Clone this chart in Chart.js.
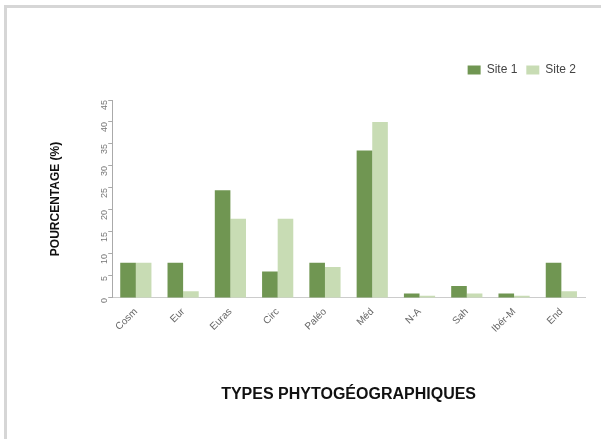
<!DOCTYPE html>
<html lang="fr">
  <head>
    <meta charset="UTF-8" />
    <title>Types phytogéographiques</title>
    <script src="https://cdn.jsdelivr.net/npm/chart.js@4.4.1/dist/chart.umd.min.js"></script>
    <style>
      body {
        margin: 0;
        background: #ffffff;
      }
      .frame {
        position: absolute;
        left: 4px;
        top: 5px;
        width: 597px;
        height: 434px;
        border-top: 3px solid #d6d6d6;
        border-left: 3px solid #d6d6d6;
        box-sizing: border-box;
      }
      .wrap {
        position: absolute;
        left: 0;
        top: 0;
        width: 601px;
        height: 439px;
      }
    </style>
  </head>
  <body>
    <div class="frame"></div>
    <div class="wrap"><canvas id="chart" width="601" height="439"></canvas></div>

    <script>
      // values (percentages)
      const categories = [
        "Cosm",
        "Eur",
        "Euras",
        "Circ",
        "Paléo",
        "Méd",
        "N-A",
        "Sah",
        "Ibér-M",
        "End",
      ];
      const site1 = [8, 8, 24.5, 6, 8, 33.5, 1, 2.7, 1, 8];
      const site2 = [8, 1.5, 18, 18, 7, 40, 0.5, 1, 0.5, 1.5];
      const yTicks = [0, 5, 10, 15, 20, 25, 30, 35, 40, 45];

      // push the plot down below the legend
      const legendGap = {
        id: "legendGap",
        beforeInit(chart) {
          const fit = chart.legend.fit;
          chart.legend.fit = function () {
            fit.bind(chart.legend)();
            this.height += 14;
          };
        },
      };

      new Chart(document.getElementById("chart"), {
        type: "bar",
        data: {
          labels: categories,
          datasets: [
            {
              label: "Site 1",
              data: site1,
              backgroundColor: "rgb(112, 150, 82)",
              borderWidth: 0,
            },
            {
              label: "Site 2",
              data: site2,
              backgroundColor: "rgb(200, 220, 180)",
              borderWidth: 0,
            },
          ],
        },
        options: {
          responsive: false,
          animation: false,
          layout: {
            padding: { left: 44, right: 16, top: 55, bottom: 31 },
          },
          plugins: {
            legend: {
              position: "top",
              align: "end",
              labels: {
                boxWidth: 13,
                boxHeight: 9,
                padding: 9,
                color: "#444",
                font: { family: "Arial", size: 12 },
              },
            },
            tooltip: { enabled: false },
          },
          datasets: {
            bar: { categoryPercentage: 0.66, barPercentage: 1.0 },
          },
          scales: {
            x: {
              grid: { display: false, drawTicks: false },
              border: { color: "#cccccc" },
              ticks: {
                minRotation: 45,
                maxRotation: 45,
                color: "#666",
                padding: 8,
                font: { family: "Arial", size: 10 },
              },
              title: {
                display: true,
                text: "TYPES PHYTOGÉOGRAPHIQUES",
                color: "#111",
                padding: { top: 42 },
                font: { family: "Arial", size: 16, weight: "bold" },
              },
            },
            y: {
              min: 0,
              max: 45,
              afterBuildTicks: (axis) => {
                axis.ticks = yTicks.map((v) => ({ value: v }));
              },
              grid: {
                display: true,
                drawOnChartArea: false,
                tickLength: 4,
                color: "#aaaaaa",
              },
              border: { color: "#aaaaaa" },
              ticks: {
                minRotation: 90,
                maxRotation: 90,
                color: "#777",
                padding: 4,
                font: { family: "Arial", size: 9 },
              },
              title: {
                display: true,
                text: "POURCENTAGE (%)",
                color: "#111",
                padding: { bottom: 27 },
                font: { family: "Arial", size: 12, weight: "bold" },
              },
            },
          },
        },
        plugins: [legendGap],
      });
    </script>
  </body>
</html>
